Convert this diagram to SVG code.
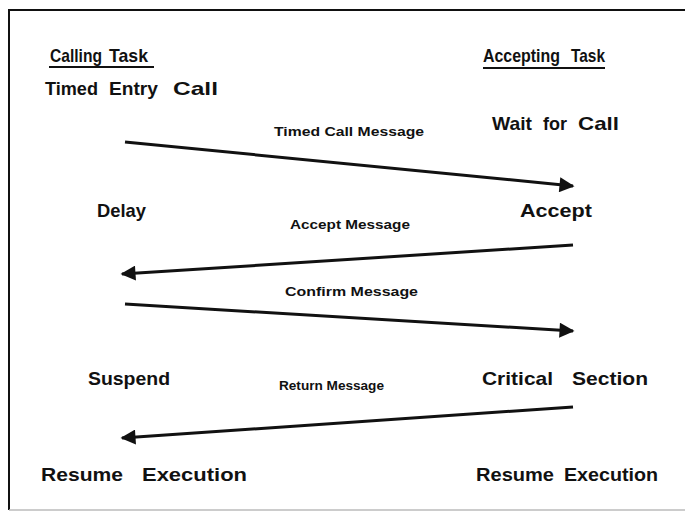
<svg xmlns="http://www.w3.org/2000/svg" width="685" height="512" viewBox="0 0 685 512">
<style>
.t{font-family:"Liberation Sans",Arial,sans-serif;font-weight:bold;font-size:18.5px;fill:#111}
.m{font-family:"Liberation Sans",Arial,sans-serif;font-weight:bold;font-size:13.5px;fill:#111}
.u{stroke:#111;stroke-width:2}
.c{stroke:#111;stroke-width:3;fill:none;marker-end:url(#ah)}
</style>
<defs>
<marker id="ah" viewBox="0 0 10 10" refX="9" refY="5" markerWidth="6" markerHeight="5" markerUnits="strokeWidth" orient="auto">
<path d="M0,0 L10,5 L0,10 z" fill="#111"/>
</marker>
</defs>
<rect x="0" y="0" width="685" height="512" fill="#fff"/>
<path d="M9,510 L9,10 L700,10" fill="none" stroke="#111" stroke-width="2"/>
<line x1="9" y1="510" x2="685" y2="510" stroke="#bbb" stroke-width="1.5"/>
<g id="calling-task"><text class="t" y="62"><tspan x="50" textLength="52" lengthAdjust="spacingAndGlyphs">Calling</tspan> <tspan x="109" textLength="39" lengthAdjust="spacingAndGlyphs">Task</tspan></text><line class="u" x1="49" y1="67" x2="154" y2="67"/></g>
<g id="accepting-task"><text class="t" y="62"><tspan x="483" textLength="77" lengthAdjust="spacingAndGlyphs">Accepting</tspan> <tspan x="571" textLength="34" lengthAdjust="spacingAndGlyphs">Task</tspan></text><line class="u" x1="483" y1="68" x2="605" y2="68"/></g>
<g id="timed-entry-call"><text class="t" y="95"><tspan x="45" textLength="53" lengthAdjust="spacingAndGlyphs">Timed</tspan> <tspan x="109" textLength="49" lengthAdjust="spacingAndGlyphs">Entry</tspan> <tspan x="173" textLength="45" lengthAdjust="spacingAndGlyphs">Call</tspan></text></g>
<g id="wait-for-call"><text class="t" y="130"><tspan x="492" textLength="40" lengthAdjust="spacingAndGlyphs">Wait</tspan> <tspan x="543" textLength="24" lengthAdjust="spacingAndGlyphs">for</tspan> <tspan x="578" textLength="41" lengthAdjust="spacingAndGlyphs">Call</tspan></text></g>
<g id="delay"><text class="t" x="97" y="217" textLength="49" lengthAdjust="spacingAndGlyphs">Delay</text></g>
<g id="accept"><text class="t" x="520" y="217" textLength="72" lengthAdjust="spacingAndGlyphs">Accept</text></g>
<g id="suspend"><text class="t" x="88" y="385" textLength="82" lengthAdjust="spacingAndGlyphs">Suspend</text></g>
<g id="critical-section"><text class="t" y="385"><tspan x="482" textLength="71" lengthAdjust="spacingAndGlyphs">Critical</tspan> <tspan x="572" textLength="76" lengthAdjust="spacingAndGlyphs">Section</tspan></text></g>
<g id="resume-left"><text class="t" y="481"><tspan x="41" textLength="82" lengthAdjust="spacingAndGlyphs">Resume</tspan> <tspan x="142" textLength="105" lengthAdjust="spacingAndGlyphs">Execution</tspan></text></g>
<g id="resume-right"><text class="t" y="481"><tspan x="476" textLength="78" lengthAdjust="spacingAndGlyphs">Resume</tspan> <tspan x="564" textLength="94" lengthAdjust="spacingAndGlyphs">Execution</tspan></text></g>
<g id="connectors">
<line class="c" x1="125" y1="142" x2="573" y2="186"/>
<line class="c" x1="573" y1="245" x2="122" y2="274"/>
<line class="c" x1="125" y1="304" x2="573" y2="331"/>
<line class="c" x1="573" y1="407" x2="122" y2="438"/>
<text class="m" x="274" y="136" textLength="150" lengthAdjust="spacingAndGlyphs">Timed Call Message</text>
<text class="m" x="290" y="229" textLength="120" lengthAdjust="spacingAndGlyphs">Accept Message</text>
<text class="m" x="285" y="296" textLength="133" lengthAdjust="spacingAndGlyphs">Confirm Message</text>
<text class="m" x="279" y="390" textLength="105" lengthAdjust="spacingAndGlyphs">Return Message</text>
</g>
</svg>
